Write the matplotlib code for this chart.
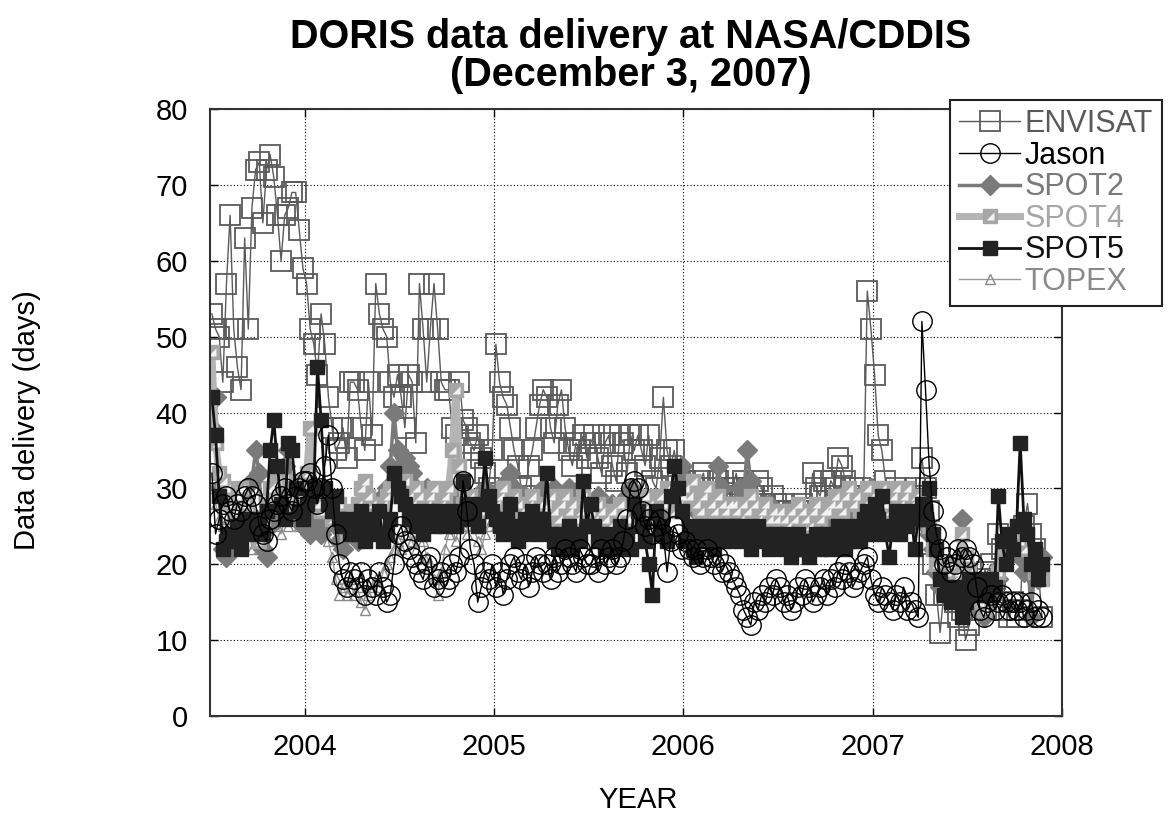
import numpy as np
import matplotlib
matplotlib.use('Agg')
import matplotlib.pyplot as plt

plt.rcParams['font.family'] = ['Liberation Sans', 'DejaVu Sans']

## --- data: weekly delivery delay (days), first week ~2003.51 ---
t0 = 2003.51
week = 1.0 / 52

envisat = [
    53, 51, 50, 44, 57, 66, 51, 46, 43, 63, 51, 67, 72,
    73, 65, 72, 74, 71, 66, 60, 66, 67, 69, 69, 64, 59,
    57, 51, 49, 45, 53, 49, 42, 38, 35, 36, 38, 34, 44,
    44, 43, 38, 35, 44, 37, 57, 53, 51, 50, 44, 42, 45,
    42, 38, 45, 44, 36, 57, 51, 44, 51, 57, 51, 44, 43,
    43, 38, 37, 44, 39, 38, 36, 35, 37, 34, 32, 30, 35,
    49, 44, 42, 41, 38, 35, 33, 30, 29, 33, 35, 38, 41,
    43, 42, 38, 36, 41, 43, 38, 35, 33, 36, 35, 37, 34,
    36, 37, 34, 32, 36, 37, 33, 31, 37, 36, 32, 37, 35,
    37, 35, 33, 37, 31, 30, 34, 42, 35, 33, 35, 31, 30,
    31, 29, 30, 28, 31, 32, 29, 28, 30, 31, 29, 28, 30,
    30, 32, 29, 31, 30, 28, 29, 31, 30, 28, 27, 29, 28,
    27, 28, 27, 26, 27, 27, 28, 27, 26, 32, 30, 29, 31,
    29, 31, 30, 34, 33, 31, 29, 30, 28, 30, 29, 56, 51,
    45, 37, 35, 31, 29, 27, 30, 28, 29, 27, 28, 30, 29,
    34, 30, 27, 20, 16, 11, 16, 18, 17, 15, 13, 14, 10,
    12, 14, 16, 18, 17, 19, 20, 18, 24, 22, 14, 13, 15,
    13, 14, 25, 28, 24, 22, 19, 13]

jason = [
    32, 24, 26, 28, 29, 27, 26, 28, 27, 29, 30, 29, 28,
    25, 24, 23, 26, 27, 28, 29, 30, 28, 27, 29, 30, 31,
    31, 32, 30, 28, 30, 33, 37, 30, 24, 20, 18, 17, 19,
    18, 17, 19, 16, 18, 17, 16, 19, 17, 15, 16, 20, 24,
    25, 23, 22, 21, 20, 19, 18, 20, 21, 17, 18, 19, 17,
    18, 20, 19, 21, 31, 27, 22, 20, 15, 17, 19, 18, 20,
    17, 19, 16, 18, 20, 21, 19, 18, 20, 17, 19, 21, 20,
    19, 20, 18, 21, 19, 20, 22, 21, 20, 19, 22, 21, 20,
    20, 21, 19, 22, 20, 21, 22, 20, 21, 23, 26, 30, 31,
    30, 27, 25, 26, 24, 25, 26, 24, 19, 23, 25, 24, 22,
    23, 22, 21, 22, 20, 21, 22, 21, 20, 21, 19, 20, 19,
    18, 17, 16, 14, 13, 12, 15, 14, 16, 15, 17, 16, 18,
    17, 15, 16, 14, 15, 17, 16, 18, 17, 15, 16, 17, 18,
    16, 18, 17, 19, 18, 20, 19, 17, 18, 19, 20, 21, 18,
    16, 15, 17, 16, 15, 14, 16, 15, 17, 14, 15, 14, 13,
    52, 43, 33, 27, 24, 22, 20, 21, 19, 20, 22, 21, 22,
    21, 20, 17, 14, 13, 15, 16, 14, 15, 16, 15, 14, 15,
    14, 15, 13, 14, 15, 13, 14, 13]

spot2 = [
    38, 42, 30, 22, 21, 22, 23, 24, 26, 28, 27, 31, 35,
    32, 22, 21, 25, 27, 26, 28, 33, 35, 30, 27, 26, 25,
    25, 24, 27, 26, 24, 25, 27, 26, 25, 23, 22, 24, 25,
    24, 23, 26, 25, 27, 28, 26, 27, 29, 30, 33, 40, 35,
    33, 34, 33, 32, 30, 29, 28, 30, 29, 28, 27, 29, 28,
    30, 29, 28, 30, 29, 27, 28, 26, 27, 29, 30, 28, 29,
    28, 30, 29, 31, 32, 30, 28, 27, 29, 28, 27, 28, 29,
    30, 29, 28, 30, 29, 28, 29, 30, 28, 29, 30, 27, 28,
    28, 27, 29, 28, 26, 27, 28, 26, 27, 28, 29, 30, 29,
    29, 28, 27, 26, 28, 27, 26, 28, 27, 29, 28, 30, 33,
    31, 29, 28, 27, 29, 28, 27, 26, 27, 33, 30, 28, 27,
    27, 28, 30, 29, 35, 31, 28, 27, 26, 27, 28, 26, 25,
    25, 24, 26, 23, 24, 25, 23, 24, 26, 25, 24, 23, 25,
    26, 27, 28, 27, 29, 28, 27, 26, 28, 29, 27, 28, 30,
    29, 28, 27, 29, 28, 26, 27, 28, 29, 27, 28, 26, 27,
    26, 25, 24, 22, 19, 17, 18, 16, 17, 19, 18, 26, 20,
    17, 16, 15, 14, 13, 15, 17, 16, 18, 20, 22, 21, 24,
    23, 21, 19, 22, 13, 20, 18, 21]

spot4 = [
    48, 36, 32, 31, 30, 28, 27, 29, 30, 28, 27, 25, 24,
    23, 25, 28, 30, 29, 31, 28, 27, 29, 30, 31, 29, 30,
    32, 38, 30, 28, 27, 29, 28, 26, 27, 28, 25, 24, 26,
    27, 28, 30, 31, 29, 28, 27, 26, 28, 29, 30, 31, 29,
    30, 31, 29, 28, 30, 29, 27, 28, 29, 30, 27, 28, 29,
    30, 35, 43, 33, 28, 27, 29, 28, 26, 27, 28, 29, 27,
    28, 29, 30, 28, 27, 29, 28, 27, 26, 28, 29, 27, 28,
    27, 28, 29, 27, 26, 28, 29, 27, 28, 26, 27, 29, 28,
    27, 26, 28, 27, 26, 25, 27, 26, 28, 27, 26, 28, 27,
    28, 27, 29, 28, 26, 27, 29, 28, 30, 29, 27, 28, 29,
    30, 29, 31, 28, 27, 29, 30, 28, 27, 29, 28, 27, 28,
    28, 27, 26, 28, 27, 29, 28, 26, 27, 28, 26, 27, 26,
    27, 26, 25, 27, 26, 28, 27, 26, 25, 27, 28, 26, 27,
    27, 28, 29, 28, 27, 29, 30, 28, 29, 27, 28, 30, 29,
    28, 29, 30, 28, 27, 29, 30, 28, 29, 30, 28, 29, 27,
    28, 27, 25, 22, 20, 18, 17, 19, 20, 18, 19, 24, 21,
    19, 17, 16, 15, 14, 16, 17, 18, 19, 21, 23, 22, 24,
    25, 23, 22, 24, 21, 19, 20, 18]

spot5 = [
    42, 37, 29, 22, 23, 24, 23, 25, 22, 26, 24, 25, 26,
    25, 24, 27, 35, 39, 33, 28, 26, 36, 35, 30, 27, 26,
    28, 29, 30, 46, 39, 30, 28, 27, 29, 26, 25, 26, 24,
    25, 24, 27, 23, 26, 25, 24, 27, 23, 24, 26, 32, 30,
    29, 28, 26, 27, 25, 26, 24, 27, 26, 25, 27, 26, 25,
    26, 27, 25, 26, 31, 28, 26, 27, 25, 28, 34, 29, 27,
    26, 25, 24, 26, 28, 25, 23, 24, 26, 25, 27, 24, 26,
    26, 32, 24, 23, 22, 24, 23, 25, 22, 24, 23, 31, 25,
    28, 25, 23, 24, 22, 23, 24, 22, 25, 23, 24, 22, 28,
    27, 25, 23, 20, 16, 27, 25, 24, 23, 29, 33, 30, 27,
    23, 25, 22, 21, 24, 25, 23, 24, 22, 25, 24, 23, 25,
    24, 25, 23, 25, 24, 22, 24, 25, 23, 24, 22, 23, 24,
    23, 22, 24, 21, 22, 24, 23, 22, 21, 23, 24, 22, 23,
    24, 22, 23, 25, 24, 22, 23, 25, 24, 23, 26, 27, 24,
    28, 26, 29, 24, 21, 25, 27, 24, 26, 25, 27, 22, 26,
    28, 26, 30, 24, 22, 18, 16, 17, 15, 16, 17, 13, 15,
    18, 17, 16, 18, 17, 16, 18, 17, 29, 23, 20, 24, 22,
    25, 36, 26, 24, 20, 22, 18, 20]

# TOPEX stops in late 2005
topex = [
    30, 28, 26, 25, 24, 26, 27, 25, 23, 24, 26, 22, 23,
    22, 24, 25, 27, 26, 25, 24, 26, 25, 27, 26, 25, 27,
    28, 26, 27, 25, 26, 24, 23, 21, 18, 16, 17, 16, 18,
    16, 17, 15, 14, 16, 17, 18, 17, 19, 20, 21, 22, 23,
    22, 24, 25, 23, 22, 24, 23, 21, 20, 18, 16, 19, 22,
    24, 25, 23, 26, 25, 24, 26, 25, 23, 22, 24, 25, 26,
    25, 24, 26, 27, 25, 24, 26, 25, 27, 26, 24, 25, 26,
    26, 25, 27, 26, 24, 25, 27, 26, 25, 24, 26, 27, 25,
    25, 26, 24, 25, 27, 26, 25, 24, 26, 25, 27, 26, 25,
    26, 25, 27]

year_ticks = [2004, 2005, 2006, 2007, 2008]
day_ticks = [0, 10, 20, 30, 40, 50, 60, 70, 80]


def dates(vals):
    return t0 + week * np.arange(len(vals))


fig = plt.figure(figsize=(11.68, 8.17), dpi=100)
ax = fig.add_axes([210/1168, 1 - 716/817, 852/1168, 607/817])

h_env, = ax.plot(dates(envisat), envisat, '-', color='#5a5a5a', lw=1.0,
                 marker='s', ms=14, mfc='none', mec='#5a5a5a', mew=1.3,
                 label='ENVISAT')
h_jas, = ax.plot(dates(jason), jason, '-', color='black', lw=1.0,
                 marker='o', ms=14, mfc='none', mec='black', mew=1.0,
                 label='Jason', zorder=2.6)
h_s2, = ax.plot(dates(spot2), spot2, '-', color='#7a7a7a', lw=2.5,
                marker='D', ms=10, mfc='#7a7a7a', mec='#7a7a7a',
                label='SPOT2')
h_s4, = ax.plot(dates(spot4), spot4, '-', color='#b4b4b4', lw=5,
                marker='s', ms=10, mfc='#a6a6a6', mec='#a6a6a6',
                label='SPOT4')
h_s4b, = ax.plot(dates(spot4), spot4, ls='none',
                 marker=[(-1, -1), (1, -1), (1, 1)], ms=6,
                 mfc='#f2f2f2', mec='none')
h_s5, = ax.plot(dates(spot5), spot5, '-', color='#111111', lw=2.0,
                marker='s', ms=10, mfc='#222222', mec='#222222',
                label='SPOT5')
# TOPEX sits underneath the SPOT series
h_top, = ax.plot(dates(topex), topex, '-', color='#9a9a9a', lw=1.0,
                 marker='^', ms=7, mfc='none', mec='#8a8a8a', mew=1.0,
                 label='TOPEX', zorder=1.8)

ax.set_xlim(2003.5, 2008)
ax.set_ylim(0, 80)
ax.set_xticks(year_ticks)
ax.set_yticks(day_ticks)
ax.tick_params(direction='in', length=6, width=1, top=True, right=True,
               labelsize=21)
ax.tick_params(axis='x', pad=12)
ax.tick_params(axis='y', pad=16)
ax.grid(True, color='black', ls=(0, (1, 2)), lw=0.8)
ax.set_axisbelow(True)
for sp in ax.spines.values():
    sp.set_linewidth(1.5)
    sp.set_color('#333333')

fig.text(0.54, 1 - 56/817, 'DORIS data delivery at NASA/CDDIS\n(December 3, 2007)',
         ha='center', va='center', fontsize=28.5, fontweight='bold',
         linespacing=1.0)
fig.text(27/1168, 1 - 420/817, 'Data delivery (days)', rotation=90,
         ha='center', va='center', fontsize=21)
fig.text(638/1168, 1 - 800/817, 'YEAR', ha='center', va='center', fontsize=21)

handles = [h_env, h_jas, h_s2, (h_s4, h_s4b), h_s5, h_top]
labels = ['ENVISAT', 'Jason', 'SPOT2', 'SPOT4', 'SPOT5', 'TOPEX']
text_colors = ['#5a5a5a', 'black', '#7a7a7a', '#a6a6a6', '#111111', '#8a8a8a']
leg = fig.legend(handles, labels, loc='upper left',
                 bbox_to_anchor=(950/1168, 1 - 100/817), borderaxespad=0,
                 fontsize=22, numpoints=1, handlelength=2.0,
                 handletextpad=0.15, labelspacing=0.05, borderpad=0.3,
                 fancybox=False, framealpha=1, edgecolor='#222222')
leg.get_frame().set_linewidth(1.5)
for txt, c in zip(leg.get_texts(), text_colors):
    txt.set_color(c)

fig.savefig('out.png', dpi=100)
